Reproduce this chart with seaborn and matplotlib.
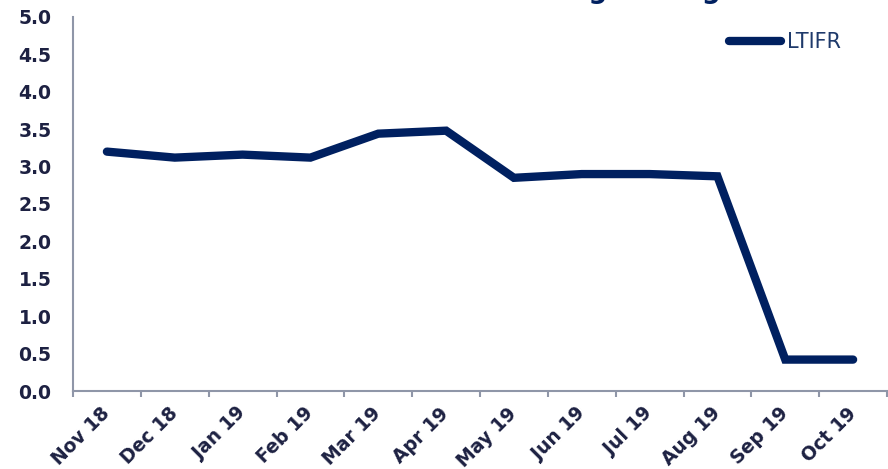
import matplotlib
matplotlib.use("Agg")
import matplotlib.pyplot as plt
import seaborn as sns
import pandas as pd

sns.set_style("white")

MONTHS = ["Nov 18", "Dec 18", "Jan 19", "Feb 19", "Mar 19", "Apr 19",
          "May 19", "Jun 19", "Jul 19", "Aug 19", "Sep 19", "Oct 19"]
LTIFR = [3.20, 3.12, 3.16, 3.12, 3.44, 3.48, 2.85, 2.90, 2.90, 2.87, 0.42, 0.42]
Y_TICKS = [0.0, 0.5, 1.0, 1.5, 2.0, 2.5, 3.0, 3.5, 4.0, 4.5, 5.0]
TITLE = "LTIFR 12 Month Rolling Average"

LINE_COLOR = "#002060"
TEXT_COLOR = "#1d2142"
AXIS_COLOR = "#8f96a8"

df = pd.DataFrame({"Month": MONTHS, "LTIFR": LTIFR})

fig = plt.figure(figsize=(8.88, 4.69), dpi=100)
ax = fig.add_axes([0.0822, 0.1663, 0.9167, 0.7975])

sns.lineplot(data=df, x="Month", y="LTIFR", ax=ax, color=LINE_COLOR,
             linewidth=6, solid_capstyle="round", solid_joinstyle="miter",
             label="LTIFR", sort=False)

ax.set_xlim(-0.5, len(MONTHS) - 0.5)
ax.set_ylim(0, 5)
ax.set_xlabel("")
ax.set_ylabel("")

# y axis
ax.set_yticks(Y_TICKS)
ax.set_yticklabels([f"{v:.1f}" for v in Y_TICKS])
ax.tick_params(axis="y", length=4.5, width=1.5, color=AXIS_COLOR, pad=11,
               labelsize=13.5, labelcolor=TEXT_COLOR)

# x axis: labels at centres, tick marks between categories
ax.set_xticks(range(len(MONTHS)))
ax.set_xticklabels(MONTHS, rotation=45, ha="right", va="center",
                   rotation_mode="anchor")
ax.set_xticks([i - 0.5 for i in range(len(MONTHS) + 1)], minor=True)
ax.tick_params(axis="x", which="major", length=0, pad=14,
               labelsize=13.5, labelcolor=TEXT_COLOR)
ax.tick_params(axis="x", which="minor", length=4.5, width=1.5,
               color=AXIS_COLOR, bottom=True)
for lbl in ax.get_xticklabels() + ax.get_yticklabels():
    lbl.set_fontweight("bold")

for side in ["top", "right"]:
    ax.spines[side].set_visible(False)
for side in ["left", "bottom"]:
    ax.spines[side].set_color(AXIS_COLOR)
    ax.spines[side].set_linewidth(1.5)

leg = ax.legend(loc="center left", bbox_to_anchor=(729 / 888, 1 - 42 / 469),
                bbox_transform=fig.transFigure, frameon=False, fontsize=15,
                handlelength=2.5, handletextpad=0.3, borderpad=0,
                borderaxespad=0)
for t in leg.get_texts():
    t.set_color("#1f3a6b")

# title sits mostly above the canvas, only the descenders show
fig.text(739 / 888, 1 + 2 / 469, TITLE, ha="right", va="baseline",
         fontsize=19, fontweight="bold", color=LINE_COLOR)

fig.savefig("out.png", dpi=100)
